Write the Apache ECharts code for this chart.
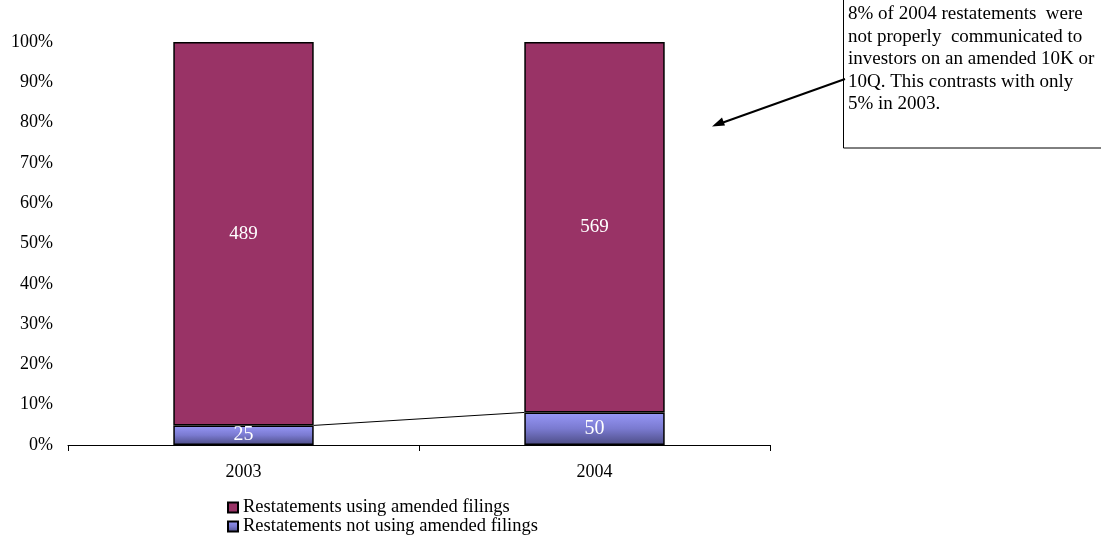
<!DOCTYPE html>
<html>
<head>
<meta charset="utf-8">
<script src="https://cdn.jsdelivr.net/npm/echarts@6/dist/echarts.min.js"></script>
<style>
  html, body { margin: 0; padding: 0; background: #fff; }
  #chart { width: 1101px; height: 539px; }
</style>
</head>
<body>
<div id="chart"></div>
<script>
// Restatement counts per year
const years = ['2003', '2004'];
const notUsingAmended = [25, 50];
const usingAmended = [489, 569];
const seriesNames = ['Restatements using amended filings', 'Restatements not using amended filings'];
const noteLines = [
  '8% of 2004 restatements  were',
  'not properly  communicated to',
  'investors on an amended 10K or',
  '10Q. This contrasts with only',
  '5% in 2003.'
];

// Share of each year's total, so the stacked bars fill 100%
const totals = years.map((_, i) => notUsingAmended[i] + usingAmended[i]);
const pctNot = notUsingAmended.map((v, i) => v / totals[i] * 100);
const pctUsing = usingAmended.map((v, i) => v / totals[i] * 100);

const serif = '"Liberation Serif", "DejaVu Serif", serif';
const BAR_RATIO = 0.4;

const chart = echarts.init(document.getElementById('chart'));
chart.setOption({
  animation: false,
  backgroundColor: '#ffffff',
  textStyle: { fontFamily: serif },
  grid: { left: 68, right: 331, top: 42, bottom: 94 },
  xAxis: {
    type: 'category',
    data: years,
    axisLine: { lineStyle: { color: '#000', width: 1 } },
    axisTick: { show: true, length: 6, lineStyle: { color: '#000' } },
    axisLabel: { color: '#000', fontSize: 18, fontFamily: serif, margin: 18 }
  },
  yAxis: {
    type: 'value',
    min: 0, max: 100, interval: 10,
    axisLine: { show: false },
    axisTick: { show: false },
    splitLine: { show: false },
    axisLabel: { color: '#000', fontSize: 18, fontFamily: serif, formatter: '{value}%', margin: 15 }
  },
  legend: {
    orient: 'vertical',
    left: 227, top: 498,
    padding: 0,
    itemWidth: 10, itemHeight: 10, itemGap: 0,
    icon: 'rect',
    data: seriesNames,
    textStyle: { color: '#000', fontSize: 18.5, lineHeight: 18, fontFamily: serif, padding: [0, 0, 0, 0] }
  },
  series: [
    {
      name: seriesNames[1],
      type: 'bar',
      stack: 'share',
      barWidth: (BAR_RATIO * 100) + '%',
      data: pctNot.map((p, i) => ({ value: p, count: notUsingAmended[i] })),
      itemStyle: {
        borderColor: '#000', borderWidth: 1.5,
        color: new echarts.graphic.LinearGradient(0, 0, 0, 1, [
          { offset: 0, color: '#9898f8' },
          { offset: 0.5, color: '#7a7ad0' },
          { offset: 1, color: '#4c4c84' }
        ])
      },
      label: {
        show: true, position: 'inside', color: '#fff',
        fontSize: 20, fontFamily: serif,
        formatter: p => p.data.count
      }
    },
    {
      name: seriesNames[0],
      type: 'bar',
      stack: 'share',
      barWidth: (BAR_RATIO * 100) + '%',
      data: pctUsing.map((p, i) => ({ value: p, count: usingAmended[i] })),
      itemStyle: { color: '#993366', borderColor: '#000', borderWidth: 1.5 },
      label: {
        show: true, position: 'inside', color: '#fff',
        fontSize: 19, fontFamily: serif,
        formatter: p => p.data.count
      }
    },
    {
      // Series line joining the tops of the lower segments
      type: 'custom',
      silent: true,
      z: 1,
      data: [[pctNot[0], pctNot[1]]],
      renderItem: function (params, api) {
        const a = api.coord([0, api.value(0)]);
        const b = api.coord([1, api.value(1)]);
        const half = api.size([1, 0])[0] * BAR_RATIO / 2;
        return {
          type: 'line',
          shape: { x1: a[0] + half, y1: a[1], x2: b[0] - half, y2: b[1] },
          style: { stroke: '#000', lineWidth: 1 }
        };
      }
    }
  ],
  graphic: [
    {
      type: 'rect',
      shape: { x: 843.5, y: -1, width: 270, height: 149 },
      style: { fill: '#fff', stroke: '#000', lineWidth: 1 },
      z: 10
    },
    {
      type: 'text',
      left: 848, top: 3,
      z: 11,
      style: {
        text: noteLines.join('\n'),
        font: '19px ' + serif,
        lineHeight: 22.5,
        fill: '#000'
      }
    },
    {
      type: 'line',
      z: 10,
      shape: { x1: 845, y1: 79, x2: 716, y2: 125 },
      style: { stroke: '#000', lineWidth: 2 }
    },
    {
      type: 'polygon',
      z: 10,
      shape: { points: [[712, 126.5], [722, 117.5], [725, 125.5]] },
      style: { fill: '#000' }
    }
  ]
});
</script>
</body>
</html>
